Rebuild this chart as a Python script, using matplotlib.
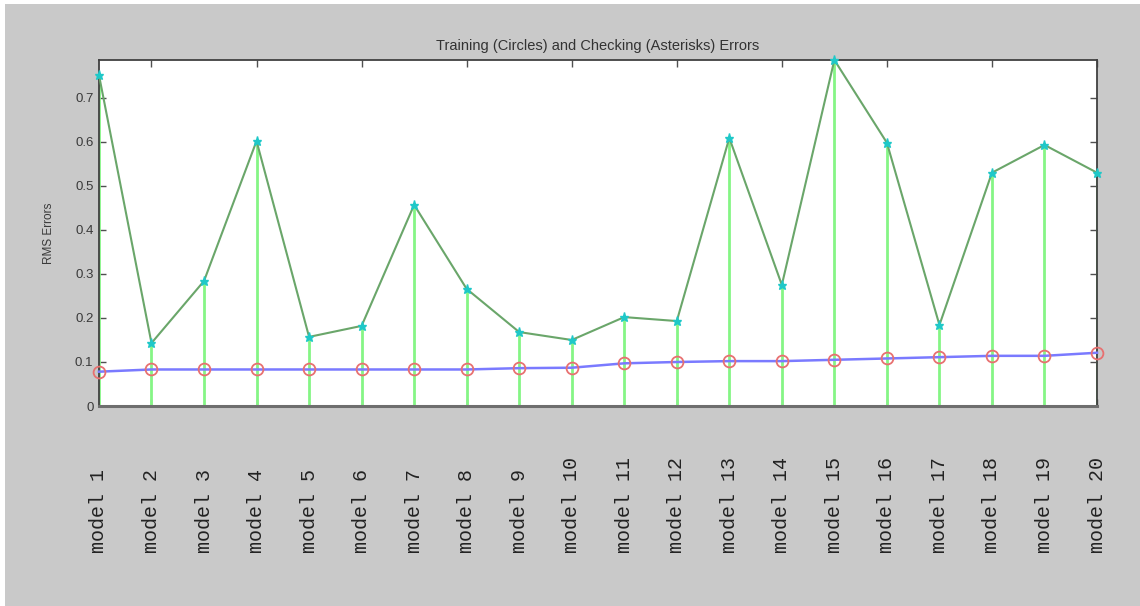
import matplotlib
matplotlib.use("Agg")
import matplotlib.pyplot as plt
import matplotlib.transforms as mtransforms
from matplotlib.patches import Rectangle
import numpy as np

# RMS errors per model
model_labels = [f"model {i}" for i in range(1, 21)]
training_err = [0.078, 0.083, 0.083, 0.083, 0.083, 0.083, 0.083, 0.083, 0.086, 0.087,
                0.097, 0.100, 0.102, 0.102, 0.105, 0.108, 0.111, 0.114, 0.114, 0.121]
checking_err = [0.752, 0.143, 0.284, 0.602, 0.157, 0.182, 0.457, 0.266, 0.168, 0.150,
                0.202, 0.193, 0.609, 0.275, 0.786, 0.598, 0.184, 0.530, 0.593, 0.530]
y_ticks = [0, 0.1, 0.2, 0.3, 0.4, 0.5, 0.6, 0.7]

x = np.arange(1, len(model_labels) + 1)
sans = ["Liberation Sans", "DejaVu Sans"]

fig = plt.figure(figsize=(11.4, 6.06), dpi=100)
fig.patch.set_facecolor("white")
# gray window panel with a thin white margin on the left and top
fig.patches.append(Rectangle((5 / 1140, 0), 1 - 5 / 1140, 1 - 4 / 606,
                             transform=fig.transFigure, facecolor="#c9c9c9",
                             edgecolor="none", zorder=-10))

ax = fig.add_axes([0.0868, 0.330, 0.8755, 0.571])
ax.set_facecolor("white")

# vertical stems for checking error
ax.vlines(x, 0, checking_err, colors="#85f585", linewidth=2.0, zorder=2)
# checking error line with asterisks
ax.plot(x, checking_err, color="#6aa66a", linewidth=1.5, zorder=3)
ax.plot(x, checking_err, linestyle="none", marker="*", markersize=6.5,
        color="#1fc8c8", zorder=4, clip_on=False)
# training error line with circles
ax.plot(x, training_err, color="#7a7aff", linewidth=1.8, zorder=3, clip_on=False)
ax.plot(x, training_err, linestyle="none", marker="o", markersize=8.5,
        markerfacecolor="none", markeredgecolor="#e87070", markeredgewidth=1.3,
        zorder=4, clip_on=False)

ax.set_xlim(1, 20)
ax.set_ylim(0, 0.786)
ax.set_xticks(np.arange(2, 21, 2))
ax.set_xticklabels([])
ax.set_yticks(y_ticks)
ax.set_yticklabels([f"{t:g}" for t in y_ticks], family=sans)
ax.tick_params(axis="both", direction="in", length=5, width=1, color="#505050",
               top=True, right=True, labelsize=9.5, labelcolor="#3a3a3a", pad=4)
ax.set_axisbelow(True)

for side in ["top", "right", "left"]:
    ax.spines[side].set_color("#404040")
    ax.spines[side].set_linewidth(1.3)
ax.spines["bottom"].set_color("#6e6e6e")
ax.spines["bottom"].set_linewidth(2.2)

ax.set_title("Training (Circles) and Checking (Asterisks) Errors",
             fontsize=10.5, color="#333333", pad=7, family=sans)
ax.set_ylabel("RMS Errors", fontsize=8.5, color="#3a3a3a", family=sans)
ax.yaxis.set_label_coords(-0.044, 0.5)

# rotated model names beneath the axis, starting at a common baseline
trans = mtransforms.blended_transform_factory(ax.transData, fig.transFigure)
for xi, lab in zip(x, model_labels):
    fig.text(xi, 1 - 553 / 606, lab, transform=trans,
             rotation=90, ha="center", va="bottom",
             family=["Liberation Mono", "DejaVu Sans Mono"], fontsize=14.4,
             color="#222222")

fig.savefig("out.png", dpi=100, facecolor=fig.get_facecolor())
